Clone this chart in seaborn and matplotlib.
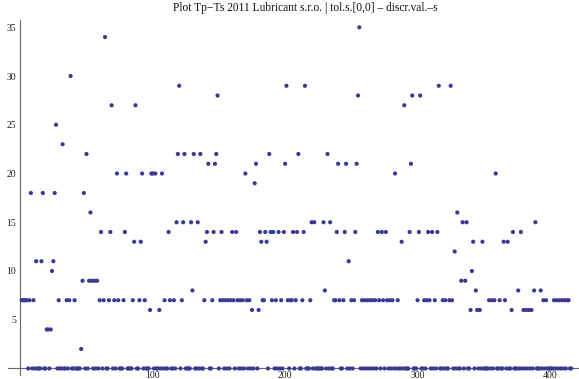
import matplotlib
matplotlib.use("Agg")
import matplotlib.pyplot as plt
from matplotlib.ticker import MultipleLocator
import seaborn as sns
import pandas as pd

# Discrete values Tp-Ts, one per sample index (1..416)
values = [
    7, 7, 7, 7, 7, 0, 7, 18, 0, 7, 0, 11, 0, 0, 0, 11, 18, 0, 0, 4,
    4, 0, 4, 10, 11, 18, 25, 0, 7, 0, 0, 23, 0, 0, 7, 0, 7, 30, 0, 0,
    7, 0, 0, 0, 0, 2, 9, 18, 0, 22, 0, 9, 16, 9, 0, 9, 0, 9, 0, 7,
    14, 0, 7, 34, 0, 0, 7, 14, 27, 0, 7, 0, 20, 7, 0, 0, 0, 7, 14, 20,
    0, 0, 0, 0, 7, 13, 27, 0, 0, 7, 13, 20, 0, 7, 0, 0, 0, 6, 20, 20,
    0, 20, 0, 0, 6, 0, 20, 0, 7, 0, 0, 14, 7, 0, 0, 7, 0, 15, 22, 29,
    0, 7, 15, 22, 0, 0, 0, 0, 15, 8, 22, 0, 0, 15, 0, 22, 0, 0, 7, 13,
    14, 21, 0, 0, 7, 14, 21, 22, 28, 0, 7, 14, 7, 0, 7, 0, 7, 0, 7, 14,
    7, 0, 14, 7, 0, 7, 0, 7, 0, 20, 7, 0, 7, 0, 6, 0, 19, 21, 0, 6,
    14, 13, 7, 7, 14, 13, 0, 22, 14, 7, 14, 0, 7, 0, 14, 0, 7, 0, 14, 21,
    29, 7, 0, 7, 7, 14, 0, 7, 14, 22, 0, 0, 7, 14, 29, 0, 0, 0, 7, 15,
    0, 15, 0, 0, 0, 0, 0, 0, 15, 8, 0, 22, 0, 15, 0, 0, 7, 7, 14, 21,
    7, 0, 0, 7, 14, 21, 0, 11, 0, 7, 0, 7, 14, 21, 28, 35, 0, 7, 0, 7,
    0, 7, 0, 7, 0, 7, 0, 7, 0, 14, 7, 0, 14, 7, 0, 14, 7, 0, 7, 0,
    7, 0, 20, 0, 7, 0, 0, 13, 0, 27, 0, 0, 0, 14, 21, 28, 0, 0, 0, 7,
    14, 28, 0, 0, 7, 0, 7, 14, 7, 0, 14, 0, 7, 0, 14, 29, 0, 0, 7, 0,
    7, 0, 0, 7, 29, 7, 0, 12, 0, 16, 0, 0, 9, 15, 0, 9, 15, 0, 0, 6,
    10, 13, 0, 8, 6, 0, 6, 0, 13, 0, 0, 0, 0, 7, 0, 7, 0, 7, 20, 0,
    0, 7, 0, 0, 13, 7, 0, 13, 0, 0, 6, 14, 0, 0, 0, 8, 0, 14, 0, 6,
    0, 6, 0, 6, 0, 6, 0, 8, 15, 0, 0, 0, 8, 0, 7, 0, 7, 0, 0, 0,
    0, 0, 7, 0, 7, 0, 7, 0, 7, 0, 7, 0, 7, 7, 0, 0,
]
index = list(range(1, len(values) + 1))

title = "Plot Tp\u2212Ts 2011 Lubricant s.r.o. | tol.s.[0,0] \u2013 discr.val.\u2013s"
xticks = [100, 200, 300, 400]
yticks = [5, 10, 15, 20, 25, 30, 35]

sns.set_style("white")
plt.rcParams["font.family"] = ["Liberation Serif", "DejaVu Serif"]

df = pd.DataFrame({"i": index, "v": values})

fig = plt.figure(figsize=(5.79, 3.79), dpi=100)
ax = fig.add_axes([0, 0, 1, 1])
ax.set_facecolor("white")

sns.scatterplot(data=df, x="i", y="v", ax=ax, color="#3a3a94",
                s=9, edgecolor="none", linewidth=0, legend=False, zorder=3)

ax.set_xlim(-15.3, 421.9)
ax.set_ylim(-1.08, 37.8)

for side in ["top", "right"]:
    ax.spines[side].set_visible(False)
ax.spines["left"].set_position(("data", 0))
ax.spines["bottom"].set_position(("data", 0))
ax.spines["left"].set_bounds(-0.7, 35.7)
ax.spines["bottom"].set_bounds(-9, 421.9)
for side in ["left", "bottom"]:
    ax.spines[side].set_color("#666666")
    ax.spines[side].set_linewidth(0.8)

ax.set_xticks(xticks)
ax.set_xticklabels([str(t) for t in xticks])
ax.set_yticks(yticks)
ax.set_yticklabels([str(t) for t in yticks])
ax.xaxis.set_minor_locator(MultipleLocator(20))
ax.yaxis.set_minor_locator(MultipleLocator(1))
ax.tick_params(axis="both", which="major", direction="in", length=4, width=0.6,
               color="#666666", labelsize=7, labelcolor="#222222")
ax.tick_params(axis="both", which="minor", direction="in", length=2, width=0.5,
               color="#888888")
ax.tick_params(axis="x", which="major", pad=1.5)
ax.tick_params(axis="y", which="major", pad=3)
ax.set_xlabel("")
ax.set_ylabel("")

fig.text(305 / 579, 1 - 8 / 379, title, ha="center", va="center",
         fontsize=8.3, color="#111111")

fig.savefig("out.png", dpi=100, facecolor="white")
